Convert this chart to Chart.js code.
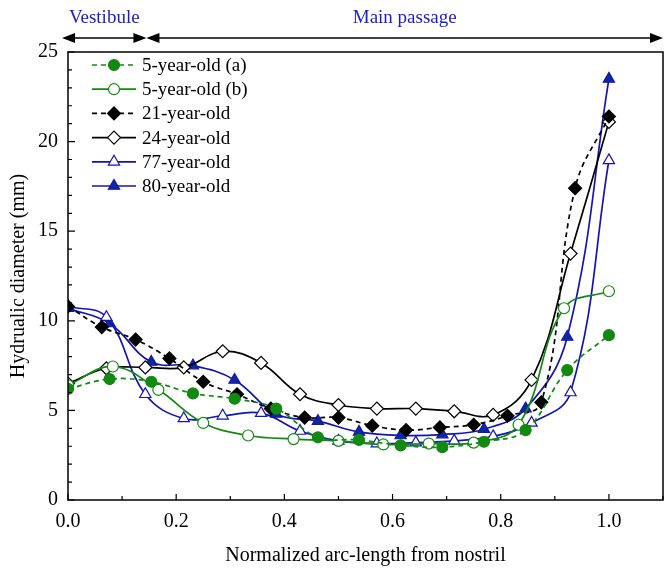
<!DOCTYPE html>
<html>
<head>
<meta charset="utf-8">
<script src="https://cdn.jsdelivr.net/npm/chart.js@4.4.1/dist/chart.umd.min.js"></script>
<style>
  html, body { margin: 0; padding: 0; background: #fff; }
  #wrap { width: 664px; height: 568px; position: relative; }
</style>
</head>
<body>
<div id="wrap"><canvas id="chart" width="664" height="568"></canvas></div>
<script>
const GREEN = "#128a12";
const BLACK = "#000000";
const BLUE = "#1414b4";
const BLUE_FILL = "#0c2a98";
const TEXT_BLUE = "#1c1cc8";
const FONT = "'Liberation Serif', 'Times New Roman', serif";

// ---- data ----
const X_TICKS = [0, 0.2, 0.4, 0.6, 0.8, 1.0];
const X_END = 1.1;
const X_MINOR = [0.1, 0.3, 0.5, 0.7, 0.9, 1.1];
const Y_TICKS = [0, 5, 10, 15, 20, 25];
const Y_MINOR = [1, 2, 3, 4, 6, 7, 8, 9, 11, 12, 13, 14, 16, 17, 18, 19, 21, 22, 23, 24];

// region arrows along the top (x in axis units)
const REGION_STOPS = [-0.011, 0.145, 1.1];
const REGION_NAMES = ["Vestibule", "Main passage"];

const x5a = [0, 0.077, 0.154, 0.231, 0.308, 0.385, 0.462, 0.538, 0.615, 0.692, 0.769, 0.846, 0.923, 1.0];
const y5a = [6.2, 6.75, 6.6, 5.95, 5.65, 5.1, 3.5, 3.35, 3.05, 2.95, 3.25, 3.9, 7.25, 9.2];

const x5b = [0, 0.083, 0.167, 0.25, 0.333, 0.417, 0.5, 0.583, 0.667, 0.75, 0.833, 0.917, 1.0];
const y5b = [6.4, 7.45, 6.15, 4.3, 3.6, 3.4, 3.3, 3.1, 3.15, 3.2, 4.2, 10.7, 11.65];

const x21 = [0, 0.0625, 0.125, 0.1875, 0.25, 0.3125, 0.375, 0.4375, 0.5, 0.5625, 0.625, 0.6875, 0.75, 0.8125, 0.875, 0.9375, 1.0];
const y21 = [10.8, 9.65, 8.95, 7.9, 6.6, 5.9, 5.1, 4.6, 4.6, 4.15, 3.9, 4.05, 4.2, 4.7, 5.45, 17.4, 21.4];

const x24 = [0, 0.071, 0.143, 0.214, 0.286, 0.357, 0.429, 0.5, 0.571, 0.643, 0.714, 0.786, 0.857, 0.929, 1.0];
const y24 = [6.5, 7.35, 7.4, 7.4, 8.3, 7.65, 5.9, 5.3, 5.1, 5.1, 4.95, 4.75, 6.7, 13.75, 21.1];

const x77 = [0, 0.071, 0.143, 0.214, 0.286, 0.357, 0.429, 0.5, 0.571, 0.643, 0.714, 0.786, 0.857, 0.929, 1.0];
const y77 = [10.8, 10.2, 5.9, 4.55, 4.7, 4.85, 3.85, 3.3, 3.15, 3.2, 3.3, 3.55, 4.3, 6.0, 18.95];

const x80 = [0, 0.077, 0.154, 0.231, 0.308, 0.385, 0.462, 0.538, 0.615, 0.692, 0.769, 0.846, 0.923, 1.0];
const y80 = [10.7, 9.85, 7.7, 7.5, 6.7, 4.8, 4.4, 3.8, 3.6, 3.65, 3.95, 5.1, 9.1, 23.5];

function pts(xs, ys) {
  return xs.map((x, i) => ({ x: x, y: ys[i] }));
}

function series(label, xs, ys, color, fill, style, radius, dashed) {
  return {
    label: label,
    data: pts(xs, ys),
    borderColor: color,
    backgroundColor: fill,
    pointBorderColor: color,
    pointBackgroundColor: fill,
    pointStyle: style,
    pointRadius: radius,
    pointBorderWidth: 1.2,
    borderWidth: 1.7,
    borderDash: dashed ? [5, 4] : [],
    tension: 0.4,
    fill: false
  };
}

const datasets = [
  series("5-year-old (a)", x5a, y5a, GREEN, GREEN, "circle", 5.5, true),
  series("5-year-old (b)", x5b, y5b, GREEN, "#ffffff", "circle", 5.5, false),
  series("21-year-old", x21, y21, BLACK, BLACK, "rectRot", 6.5, true),
  series("24-year-old", x24, y24, BLACK, "#ffffff", "rectRot", 6.5, false),
  series("77-year-old", x77, y77, BLUE, "#ffffff", "triangle", 6.5, false),
  series("80-year-old", x80, y80, BLUE, BLUE_FILL, "triangle", 6.5, false)
];

// ---- plugins ----
const frame = {
  id: "frame",
  afterDatasetsDraw(chart) {
    const { ctx, chartArea: a, scales } = chart;
    ctx.save();
    ctx.strokeStyle = "#000";
    ctx.lineWidth = 1.5;
    ctx.strokeRect(a.left, a.top, a.right - a.left, a.bottom - a.top);
    ctx.lineWidth = 1.2;
    ctx.beginPath();
    X_TICKS.forEach(v => {
      const px = scales.x.getPixelForValue(v);
      ctx.moveTo(px, a.bottom); ctx.lineTo(px, a.bottom - 6);
    });
    X_MINOR.forEach(v => {
      const px = scales.x.getPixelForValue(v);
      ctx.moveTo(px, a.bottom); ctx.lineTo(px, a.bottom - 4);
    });
    Y_TICKS.forEach(v => {
      const py = scales.y.getPixelForValue(v);
      ctx.moveTo(a.left, py); ctx.lineTo(a.left + 7, py);
    });
    Y_MINOR.forEach(v => {
      const py = scales.y.getPixelForValue(v);
      ctx.moveTo(a.left, py); ctx.lineTo(a.left + 4, py);
    });
    ctx.stroke();
    ctx.restore();
  }
};

function arrowHead(ctx, x, y, dir) {
  ctx.beginPath();
  ctx.moveTo(x, y);
  ctx.lineTo(x - dir * 13, y - 5);
  ctx.lineTo(x - dir * 13, y + 5);
  ctx.closePath();
  ctx.fill();
}

const regions = {
  id: "regions",
  afterDraw(chart) {
    const { ctx, scales } = chart;
    const y = 38;
    ctx.save();
    ctx.fillStyle = "#000";
    ctx.strokeStyle = "#000";
    ctx.lineWidth = 1.6;
    for (let i = 0; i < REGION_NAMES.length; i++) {
      const x0 = scales.x.getPixelForValue(REGION_STOPS[i]);
      const x1 = scales.x.getPixelForValue(REGION_STOPS[i + 1]);
      ctx.beginPath();
      ctx.moveTo(x0 + 6, y); ctx.lineTo(x1 - 6, y);
      ctx.stroke();
      arrowHead(ctx, x0, y, -1);
      arrowHead(ctx, x1, y, 1);
      ctx.fillStyle = TEXT_BLUE;
      ctx.font = "19px " + FONT;
      ctx.textAlign = "center";
      ctx.textBaseline = "middle";
      ctx.fillText(REGION_NAMES[i], (x0 + x1) / 2, 18);
      ctx.fillStyle = "#000";
    }
    ctx.restore();
  }
};

const legendBox = {
  id: "legendBox",
  afterDraw(chart) {
    const { ctx } = chart;
    ctx.save();
    chart.data.datasets.forEach((ds, i) => {
      const y = 65 + i * 24.2;
      ctx.strokeStyle = ds.borderColor;
      ctx.lineWidth = ds.borderWidth;
      ctx.setLineDash(ds.borderDash);
      ctx.beginPath();
      ctx.moveTo(92, y); ctx.lineTo(136, y);
      ctx.stroke();
      ctx.setLineDash([]);
      ctx.fillStyle = ds.pointBackgroundColor;
      ctx.strokeStyle = ds.pointBorderColor;
      ctx.lineWidth = ds.pointBorderWidth;
      Chart.helpers.drawPoint(ctx, { pointStyle: ds.pointStyle, radius: ds.pointRadius, rotation: 0, borderWidth: ds.pointBorderWidth }, 114, y);
      ctx.fillStyle = "#000";
      ctx.font = "19px " + FONT;
      ctx.textAlign = "left";
      ctx.textBaseline = "middle";
      ctx.fillText(ds.label, 142, y + 1);
    });
    ctx.restore();
  }
};

// ---- chart ----
const ctx = document.getElementById("chart").getContext("2d");

new Chart(ctx, {
  type: "line",
  data: { datasets: datasets },
  options: {
    responsive: false,
    animation: false,
    // no automatic room for point radius: the plot box must reach the canvas edge
    layout: { autoPadding: false, padding: { top: 52, right: 1, left: 0, bottom: 0 } },
    plugins: { legend: { display: false }, tooltip: { enabled: false } },
    scales: {
      x: {
        type: "linear",
        min: 0,
        max: X_END,
        afterBuildTicks: s => { s.ticks = X_TICKS.map(v => ({ value: v })); },
        afterFit: s => {
          s.height = 68;
          s.paddingLeft = 0;
          s.paddingRight = 0;
        },
        grid: { display: false, drawTicks: false },
        border: { display: false },
        ticks: {
          padding: 10,
          color: "#000",
          font: { family: FONT, size: 20 },
          callback: v => v.toFixed(1)
        },
        title: {
          display: true,
          text: "Normalized arc-length from nostril",
          color: "#000",
          font: { family: FONT, size: 20 },
          padding: { top: 8, bottom: 0 }
        }
      },
      y: {
        min: 0,
        max: 25,
        afterBuildTicks: s => { s.ticks = Y_TICKS.map(v => ({ value: v })); },
        afterFit: s => { s.width = 68; },
        grid: { display: false, drawTicks: false },
        border: { display: false },
        ticks: {
          padding: 10,
          color: "#000",
          font: { family: FONT, size: 20 }
        },
        title: {
          display: true,
          text: "Hydrualic diameter (mm)",
          color: "#000",
          font: { family: FONT, size: 20 },
          padding: { top: 7, bottom: 2 }
        }
      }
    }
  },
  plugins: [frame, regions, legendBox]
});
</script>
</body>
</html>
